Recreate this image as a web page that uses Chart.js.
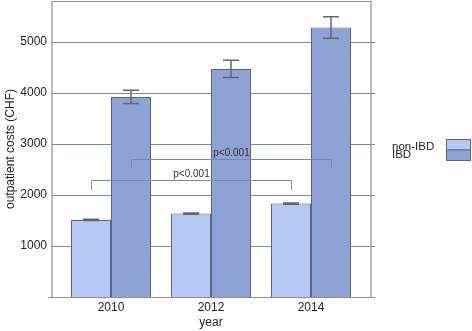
<!DOCTYPE html>
<html>
<head>
<meta charset="utf-8">
<script src="https://cdn.jsdelivr.net/npm/chart.js@4"></script>
<style>
    html, body { margin: 0; padding: 0; background: #fff; }
    #wrap { width: 472px; height: 331px; }
</style>
</head>
<body>
<div id="wrap"><canvas id="costChart"></canvas></div>
<script>
// values
const years = ['2010', '2012', '2014'];
const nonIbdCosts = [1510, 1635, 1830];
const nonIbdErr = [12, 12, 12];
const ibdCosts = [3920, 4470, 5280];
const ibdErr = [130, 170, 210];
const yTicks = [1000, 2000, 3000, 4000, 5000];
const yMax = 5800;

// significance brackets: dataset, first and last bar, height, foot
const bracketSets = [1, 0];
const bracketTops = [2700, 2290];
const bracketFeet = [2510, 2100];
const bracketLabels = ['p<0.001', 'p<0.001'];

const FONT = '"Liberation Sans", Arial, sans-serif';
const lineCol = '#7888b0';
const frameCol = '#8e8e8e';

const frame = {
    id: 'frame',
    beforeDatasetsDraw(chart) {
        const { ctx, chartArea: a, scales: { y } } = chart;
        ctx.save();
        ctx.strokeStyle = lineCol;
        ctx.lineWidth = 1;
        yTicks.forEach(v => {
            const py = Math.round(y.getPixelForValue(v)) + 0.5;
            ctx.beginPath();
            ctx.moveTo(a.left - 9, py);
            ctx.lineTo(a.right + 14, py);
            ctx.stroke();
        });
        ctx.restore();
    },
    afterDatasetsDraw(chart) {
        const { ctx, chartArea: a, scales: { y } } = chart;
        ctx.save();

        // error bars
        ctx.strokeStyle = '#666';
        ctx.lineWidth = 1.5;
        [nonIbdErr, ibdErr].forEach((errs, di) => {
            const meta = chart.getDatasetMeta(di);
            const vals = chart.data.datasets[di].data;
            meta.data.forEach((bar, i) => {
                const hi = y.getPixelForValue(vals[i] + errs[i]);
                const lo = y.getPixelForValue(vals[i] - errs[i]);
                ctx.beginPath();
                ctx.moveTo(bar.x, hi); ctx.lineTo(bar.x, lo);
                ctx.moveTo(bar.x - 8, hi); ctx.lineTo(bar.x + 8, hi);
                ctx.moveTo(bar.x - 8, lo); ctx.lineTo(bar.x + 8, lo);
                ctx.stroke();
            });
        });

        // brackets
        ctx.strokeStyle = lineCol;
        ctx.lineWidth = 1;
        ctx.fillStyle = '#333';
        ctx.font = '10px ' + FONT;
        ctx.textAlign = 'center';
        ctx.textBaseline = 'alphabetic';
        bracketSets.forEach((di, k) => {
            const bars = chart.getDatasetMeta(di).data;
            const x1 = Math.round(bars[0].x) + 0.5;
            const x2 = Math.round(bars[bars.length - 1].x) + 0.5;
            const top = Math.round(y.getPixelForValue(bracketTops[k])) + 0.5;
            const foot = y.getPixelForValue(bracketFeet[k]);
            ctx.beginPath();
            ctx.moveTo(x1, foot); ctx.lineTo(x1, top);
            ctx.lineTo(x2, top); ctx.lineTo(x2, foot);
            ctx.stroke();
            ctx.fillText(bracketLabels[k], (x1 + x2) / 2, top - 4);
        });

        // frame
        ctx.strokeStyle = frameCol;
        ctx.lineWidth = 1.2;
        ctx.beginPath();
        ctx.moveTo(a.left - 9, a.top + 0.5);
        ctx.lineTo(a.right + 10, a.top + 0.5);
        ctx.lineTo(a.right + 10, a.bottom);
        ctx.moveTo(a.left - 9, a.top);
        ctx.lineTo(a.left - 9, a.bottom);
        ctx.moveTo(a.left - 13, a.bottom + 0.5);
        ctx.lineTo(a.right + 14, a.bottom + 0.5);
        ctx.stroke();
        ctx.restore();
    },
    afterDraw(chart) {
        const { ctx } = chart;
        ctx.save();
        ctx.font = '11.5px ' + FONT;
        ctx.fillStyle = '#222';
        ctx.textAlign = 'left';
        ctx.textBaseline = 'alphabetic';
        chart.data.datasets.forEach((ds, i) => {
            ctx.fillText(ds.label, 392, 150.2 + i * 8.2);
            ctx.fillStyle = ds.backgroundColor;
            ctx.fillRect(446, 139 + i * 10.5, 25, 10.5);
            ctx.strokeStyle = ds.borderColor;
            ctx.lineWidth = 1;
            ctx.strokeRect(446.5, 139.5 + i * 10.5, 24, 10.5);
            ctx.fillStyle = '#222';
        });
        ctx.restore();
    }
};

new Chart(document.getElementById('costChart'), {
    type: 'bar',
    data: {
        labels: years,
        datasets: [{
            label: 'non-IBD',
            data: nonIbdCosts,
            backgroundColor: '#b7c8f3',
            borderColor: '#56658c',
            borderWidth: 1
        }, {
            label: 'IBD',
            data: ibdCosts,
            backgroundColor: '#8fa2d6',
            borderColor: '#56658c',
            borderWidth: 1
        }]
    },
    options: {
        responsive: true,
        maintainAspectRatio: false,
        animation: false,
        events: [],
        layout: { padding: { top: 1, right: 111, bottom: 0, left: 0 } },
        datasets: { bar: { categoryPercentage: 0.8, barPercentage: 1.0 } },
        plugins: { legend: { display: false }, tooltip: { enabled: false } },
        scales: {
            x: {
                grid: { display: false, drawTicks: false },
                border: { display: false },
                ticks: { color: '#222', font: { family: FONT, size: 12 }, padding: 3 },
                title: { display: true, text: 'year', color: '#222', font: { family: FONT, size: 12 }, padding: { top: 0, bottom: 1 } },
                afterFit(scale) {
                    scale.height = 34;
                    scale.paddingLeft = 0;
                    scale.paddingRight = 0;
                }
            },
            y: {
                min: 0,
                max: yMax,
                grid: { display: false, drawTicks: false },
                border: { display: false },
                afterBuildTicks(scale) { scale.ticks = yTicks.map(v => ({ value: v })); },
                ticks: {
                    color: '#222',
                    font: { family: FONT, size: 12 },
                    padding: 14,
                    callback: v => String(v)
                },
                title: { display: true, text: 'outpatient costs (CHF)', color: '#222', font: { family: FONT, size: 12 }, padding: { top: 3, bottom: 0 } },
                afterFit(scale) {
                    scale.width = 61;
                    scale.paddingTop = 0;
                    scale.paddingBottom = 0;
                }
            }
        }
    },
    plugins: [frame]
});
</script>
</body>
</html>
